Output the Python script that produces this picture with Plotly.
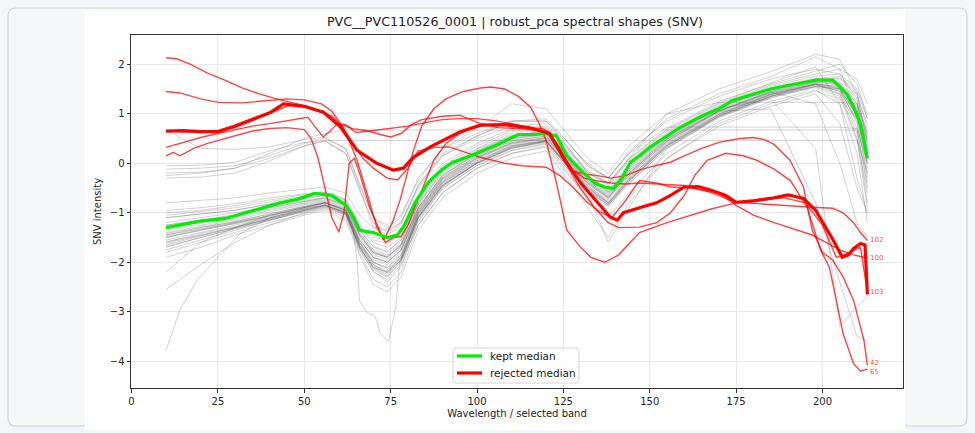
import plotly.graph_objects as go

# ---------------- data ----------------
BANDS = [10, 20, 30, 40, 50, 56, 62, 66, 70, 74, 78, 83, 90, 100, 110, 120, 126, 132, 138, 144, 155, 170, 185, 198, 205, 210, 213]

# kept spectra (gray)
KEPT_C01 = [-1.45,-1.32,-1.2,-1.05,-0.9,-0.8,-0.95,-1.6,-1.95,-2.05,-1.8,-1.0,-0.35,0.1,0.4,0.5,0.05,-0.4,-0.7,-0.25,0.45,1.05,1.42,1.62,1.5,0.8,-0.2]
KEPT_C02 = [-1.55,-1.4,-1.25,-1.1,-0.92,-0.82,-0.98,-1.65,-2.0,-2.15,-1.9,-1.05,-0.4,0.05,0.35,0.45,0.0,-0.45,-0.75,-0.3,0.4,1.0,1.4,1.6,1.55,1.1,0.3]
KEPT_C03 = [-1.65,-1.48,-1.3,-1.12,-0.95,-0.85,-1.0,-1.7,-2.1,-2.25,-1.95,-1.1,-0.45,0.0,0.3,0.42,-0.05,-0.5,-0.8,-0.35,0.35,0.98,1.38,1.58,1.45,0.7,-0.5]
KEPT_C04 = [-1.4,-1.28,-1.15,-0.98,-0.85,-0.76,-0.9,-1.5,-1.85,-1.95,-1.7,-0.95,-0.3,0.15,0.45,0.55,0.1,-0.35,-0.65,-0.2,0.5,1.08,1.45,1.65,1.62,1.2,0.5]
KEPT_C05 = [-1.7,-1.5,-1.32,-1.15,-0.98,-0.88,-1.05,-1.75,-2.2,-2.35,-2.05,-1.15,-0.5,-0.05,0.25,0.38,-0.1,-0.55,-0.85,-0.4,0.3,0.92,1.32,1.55,1.4,0.6,-0.8]
KEPT_C06 = [-1.35,-1.25,-1.12,-0.95,-0.82,-0.74,-0.88,-1.45,-1.8,-1.9,-1.65,-0.9,-0.25,0.2,0.5,0.6,0.15,-0.3,-0.6,-0.15,0.55,1.12,1.5,1.7,1.7,1.35,0.8]
KEPT_C07 = [-1.5,-1.35,-1.22,-1.08,-0.9,-0.8,-0.96,-1.62,-2.05,-2.2,-1.9,-1.02,-0.38,0.08,0.38,0.48,0.02,-0.45,-0.78,-0.3,0.42,1.02,1.4,1.6,1.45,0.9,0.0]
KEPT_C08 = [-1.2,-1.1,-1.0,-0.88,-0.75,-0.68,-0.82,-1.4,-1.75,-1.85,-1.6,-0.85,-0.2,0.25,0.55,0.65,0.2,-0.25,-0.55,-0.05,0.6,1.15,1.52,1.72,1.75,1.45,0.9]
KEPT_C09 = [-1.6,-1.42,-1.28,-1.1,-0.93,-0.84,-1.0,-1.68,-2.15,-2.3,-2.0,-1.12,-0.48,0.0,0.32,0.44,-0.02,-0.5,-0.82,-0.36,0.36,0.96,1.36,1.58,1.5,1.0,0.2]
KEPT_C10 = [-1.3,-1.2,-1.08,-0.93,-0.8,-0.72,-0.86,-1.45,-1.82,-1.9,-1.68,-0.92,-0.28,0.18,0.48,0.58,0.12,-0.32,-0.62,-0.18,0.52,1.1,1.48,1.68,1.65,1.25,0.6]
KEPT_C11 = [-1.75,-1.55,-1.35,-1.15,-0.96,-0.86,-1.02,-1.7,-2.1,-2.2,-1.95,-1.08,-0.42,0.02,0.33,0.45,-0.02,-0.48,-0.8,-0.32,0.38,0.98,1.38,1.6,1.55,1.05,0.4]
KEPT_C12 = [-1.58,-1.45,-1.3,-1.12,-0.94,-0.84,-0.99,-1.66,-2.08,-2.22,-1.96,-1.08,-0.44,0.02,0.34,0.46,-0.03,-0.48,-0.8,-0.33,0.38,0.99,1.39,1.6,1.52,0.95,-0.1]
KEPT_C13 = [-1.42,-1.3,-1.18,-1.02,-0.88,-0.79,-0.93,-1.55,-1.9,-2.0,-1.76,-0.98,-0.33,0.12,0.42,0.52,0.08,-0.38,-0.68,-0.22,0.48,1.06,1.44,1.64,1.58,1.15,0.45]
KEPT_C14 = [-1.25,-1.15,-1.04,-0.9,-0.78,-0.7,-0.84,-1.42,-1.78,-1.88,-1.64,-0.9,-0.24,0.22,0.52,0.62,0.17,-0.28,-0.58,-0.1,0.57,1.13,1.5,1.7,1.72,1.4,0.7]
KEPT_C15 = [-1.62,-1.46,-1.3,-1.13,-0.95,-0.85,-1.01,-1.7,-2.12,-2.28,-1.98,-1.1,-0.46,0.0,0.31,0.43,-0.04,-0.52,-0.84,-0.37,0.34,0.95,1.35,1.56,1.48,0.85,-0.3]
KEPT_C16 = [-1.48,-1.34,-1.21,-1.06,-0.9,-0.8,-0.95,-1.6,-2.0,-2.1,-1.85,-1.02,-0.37,0.1,0.4,0.5,0.05,-0.42,-0.72,-0.26,0.44,1.04,1.42,1.63,1.6,1.2,0.55]
KEPT_C17 = [-1.1,-1.03,-0.95,-0.83,-0.71,-0.65,-0.8,-1.36,-1.68,-1.78,-1.55,-0.82,-0.15,0.28,0.58,0.66,0.22,-0.25,-0.52,-0.02,0.62,1.17,1.55,1.76,1.8,1.5,1.0]
KEPT_C18 = [-1.68,-1.5,-1.33,-1.14,-0.97,-0.87,-1.03,-1.73,-2.18,-2.4,-2.1,-1.18,-0.52,-0.04,0.27,0.4,-0.08,-0.56,-0.88,-0.42,0.32,0.93,1.33,1.53,1.35,0.45,-0.9]
KEPT_W01 = [-0.8,-0.75,-0.7,-0.6,-0.52,-0.48,-0.6,-1.05,-1.3,-1.35,-1.2,-0.5,0.15,0.55,0.85,0.85,0.45,-0.05,-0.3,0.25,0.85,1.35,1.7,1.9,1.8,1.3,0.6]
KEPT_W02 = [-0.95,-0.9,-0.82,-0.7,-0.62,-0.58,-0.72,-1.25,-1.5,-1.55,-1.4,-0.7,0.0,0.4,0.7,0.75,0.35,-0.15,-0.4,0.1,0.7,1.25,1.6,1.85,2.0,1.6,0.9]
KEPT_W03 = [-1.05,-0.98,-0.9,-0.78,-0.66,-0.6,-0.76,-1.3,-1.6,-1.7,-1.5,-0.8,-0.1,0.3,0.62,0.7,0.3,-0.2,-0.45,0.05,0.65,1.2,1.58,1.8,1.9,1.7,1.2]
KEPT_W04 = [-1.8,-1.6,-1.4,-1.2,-1.02,-0.92,-1.1,-1.8,-2.35,-2.5,-2.2,-1.25,-0.6,-0.1,0.2,0.32,-0.2,-0.7,-1.1,-0.6,0.2,0.85,1.25,1.48,1.2,0.2,-1.2]
KEPT_W05 = [-2.2,-1.6,-1.3,-1.05,-0.88,-0.8,-0.95,-1.55,-1.9,-2.0,-1.75,-0.95,-0.3,0.15,0.45,0.55,0.1,-0.4,-0.7,-0.2,0.45,1.05,1.45,1.7,1.6,1.1,0.2]
KEPT_W06 = [-2.55,-2.05,-1.6,-1.25,-1.0,-0.9,-1.05,-1.65,-2.05,-2.2,-1.9,-1.1,-0.45,0.0,0.3,0.45,-0.05,-0.55,-0.85,-0.35,0.35,0.95,1.35,1.6,1.4,0.5,-0.6]
KEPT_W08 = [-1.9,-1.7,-1.45,-1.25,-1.05,-0.95,-1.15,-1.85,-2.45,-2.6,-2.3,-1.35,-0.7,-0.2,0.1,0.25,-0.3,-0.9,-1.5,-0.8,0.1,0.8,1.2,1.45,1.3,0.9,0.5]
KEPT_F01 = [-0.05,-0.04,0.02,0.25,0.42,0.46,0.46,0.46,0.46,0.46,0.46,0.46,0.46,0.46,0.46,0.46,0.46,0.46,0.46,0.46,0.46,0.46,0.46,0.46,0.46,0.46,-0.2]
KEPT_F02 = [-0.2,-0.18,-0.1,0.2,0.5,0.6,0.67,0.67,0.67,0.67,0.67,0.67,0.67,0.67,0.67,0.67,0.67,0.67,0.67,0.67,0.67,0.67,0.67,0.67,0.67,0.67,-0.4]
KEPT_F03 = [-0.25,-0.2,-0.1,0.1,0.35,0.45,0.2,-0.5,-1.3,-1.45,-1.25,-0.45,0.15,0.5,0.75,0.8,0.35,-0.2,-0.4,0.1,1.0,1.23,1.23,1.23,1.23,1.2,0.3]
KEPT_F04 = [0.67,0.3,0.28,0.33,0.48,0.52,0.3,-0.4,-1.1,-1.3,-1.1,-0.3,0.3,0.6,0.85,0.85,0.4,0.0,-0.3,0.2,0.73,0.73,0.73,0.73,0.73,0.7,0.0]
KEPT_U01 = [-0.3,-0.28,-0.2,0.05,0.35,0.45,0.2,-0.55,-1.2,-1.4,-1.2,-0.45,0.2,0.55,0.85,0.9,0.45,-0.05,-0.3,0.2,0.9,1.4,1.75,2.15,1.9,1.0,0.0]
KEPT_U02 = [-0.12,-0.1,-0.05,0.15,0.4,0.5,0.3,-0.45,-1.1,-1.25,-1.05,-0.35,0.3,0.7,1.2,1.1,0.6,0.1,-0.2,0.35,1.0,1.5,1.85,2.2,2.1,1.4,0.4]
KEPT_D01 = [-1.1,-1.02,-0.95,-0.82,-0.7,-0.64,-0.8,-1.35,-1.7,-1.8,-1.55,-0.82,-0.18,0.25,0.55,0.62,0.18,-0.28,-0.58,-0.08,0.55,1.1,1.3,0.3,-3.3,-2.9,-2.7]
KEPT_D02 = [-1.25,-1.15,-1.05,-0.9,-0.78,-0.7,-0.85,-1.45,-1.8,-1.9,-1.65,-0.9,-0.25,0.2,0.5,0.58,0.12,-0.35,-0.65,-0.15,0.5,1.05,1.1,-0.8,-2.4,-3.5,-3.6]
KEPT_E01 = [-1.45,-1.3,-1.18,-1.02,-0.87,-0.78,-0.92,-1.55,-1.9,-2.0,-1.75,-0.98,-0.32,0.12,0.42,0.52,0.08,-0.38,-0.68,-0.22,0.48,1.06,1.44,1.2,0.0,-1.2,-1.5]
KEPT_E02 = [-1.0,-0.95,-0.86,-0.74,-0.64,-0.6,-0.74,-1.28,-1.55,-1.62,-1.45,-0.75,-0.05,0.35,0.66,0.72,0.32,-0.18,-0.42,0.08,0.68,1.22,1.62,1.95,1.2,-0.3,-1.0]
KEPT_E03 = [-1.5,-1.36,-1.22,-1.06,-0.9,-0.8,-0.95,-1.6,-2.0,-2.12,-1.85,-1.05,-0.4,0.05,0.36,0.46,0.0,-0.6,-1.6,-0.9,0.3,0.95,1.35,1.55,1.5,0.95,0.1]

KEPT_W07_X = [10,14,19,26,31.5,40,50,56,62,64,65.3,66,68,70.6,72,74.4,76.5,77.7,80,83,90,100,110,120,126,132,138,144,155,170,185,198,205,210,213]
KEPT_W07_Y = [-3.78,-2.97,-2.36,-1.82,-1.42,-1.1,-0.92,-0.85,-1.0,-1.3,-1.96,-2.77,-3.0,-3.1,-3.43,-3.6,-2.9,-1.96,-1.7,-1.25,-0.6,-0.1,0.2,0.35,-0.15,-0.75,-1.2,-0.7,0.1,0.75,1.15,1.4,0.8,-0.5,-1.0]

# rejected spectra (red), labelled by index at their right end
REJ_102_X = [10,13,17,22,27,32,37,43,48,52,56,60,64,68,72,75,78,81,84,90,95,101,106,112,118,121,124,127,131,135,139,143,147,152,160,168,175,182,189,195,200,203,206,209,211,213]
REJ_102_Y = [2.13,2.11,2.0,1.82,1.68,1.52,1.4,1.28,1.2,1.12,1.0,0.8,0.7,0.66,0.58,0.53,0.6,0.78,0.88,0.95,0.97,0.8,0.72,0.7,0.66,0.6,0.3,-0.1,-0.3,-0.36,-0.4,-0.42,-0.4,-0.42,-0.45,-0.6,-0.79,-0.82,-0.86,-0.88,-0.9,-0.91,-1.0,-1.2,-1.4,-1.56]
REJ_65_X = [10,14,20,25,32,40,45,50,55,58,61,63,65.3,69,71,73.5,76,78,80,81.7,85.5,87.5,91,95,100,110,119,121,124,129,134,138,141,147,152,156,160,163,166.6,172,177,181,186,190.7,195.5,198.5,199.5,202,206,209,211,213]
REJ_65_Y = [1.45,1.42,1.3,1.23,1.22,1.26,1.3,1.28,1.2,1.05,0.75,0.45,0.06,-0.8,-1.3,-1.6,-1.5,-1.48,-1.25,-0.95,-0.28,0.06,0.4,0.6,0.75,0.8,0.65,0.55,0.2,-0.4,-0.9,-1.2,-1.3,-1.29,-1.2,-1.0,-0.65,-0.25,0.06,0.2,0.15,0.06,-0.12,-0.35,-0.88,-1.55,-1.76,-2.1,-3.45,-4.05,-4.2,-4.16]
REJ_103_X = [10,12,14,18,22,26,30,35,40,45,50,52,54,56,58,60,61.5,63,64.5,66,69,73,75.5,77.7,79.8,81.6,84,87.5,91,96,101,104,108,112,115.5,118,120,123,126,130,133,137,141,147,155,162,168,175,182,189,195,200,204,208,211,213]
REJ_103_Y = [0.15,0.22,0.15,0.3,0.4,0.48,0.55,0.65,0.7,0.72,0.68,0.5,0.1,-0.5,-1.1,-1.39,-1.0,0.0,0.1,-0.2,-0.9,-1.55,-1.2,-0.75,-0.2,0.26,0.75,1.1,1.3,1.45,1.52,1.54,1.5,1.35,1.13,0.8,0.46,-0.4,-1.35,-1.7,-1.9,-2.0,-1.85,-1.4,-1.2,-1.05,-0.92,-0.8,-0.72,-0.7,-0.8,-1.25,-1.9,-1.8,-1.7,-2.61]
REJ_100_X = [10,15,20,25,30,35,40,45,48,52,55,58,61,64,67,70,74,77,80,83,88,92,97,101,108,113,120,124,128,132,136,139,143,147,152,156,162,170,175,180,186,192.7,197,201,205,209,213]
REJ_100_Y = [0.65,0.64,0.62,0.64,0.72,0.86,1.0,1.15,1.18,1.1,1.03,0.95,0.75,0.4,0.1,-0.1,-0.3,-0.34,-0.1,0.25,0.32,0.33,0.22,0.12,0.0,-0.05,-0.08,-0.25,-0.5,-0.8,-1.0,-1.1,-0.75,-0.35,-0.4,-0.48,-0.5,-0.6,-0.85,-1.05,-1.2,-1.35,-1.45,-1.6,-1.75,-1.85,-1.92]
REJ_42_X = [10,15,20,25,30,35,40,45,48,51,53,55.5,57.5,59.6,62,65,70,75,80,85,90,95,100,105,110,115,119,121,124,127,131,135,138.6,143,147,151,156,160,165,170,176,180,183,186,190.6,194.5,197,200,203,206,209,212,213]
REJ_42_Y = [0.32,0.42,0.52,0.6,0.68,0.75,0.8,0.86,0.9,0.93,0.75,0.53,0.65,0.8,0.78,0.62,0.66,0.7,0.75,0.82,0.88,0.9,0.9,0.86,0.8,0.72,0.7,0.62,0.3,-0.14,-0.22,-0.25,-0.3,-0.25,-0.14,-0.06,0.02,0.15,0.3,0.42,0.5,0.52,0.48,0.38,0.06,-0.48,-1.35,-1.8,-1.96,-2.3,-2.77,-3.58,-4.08]

# medians
KEPT_MED_X = [10,15,20,27,33,38,43,48,53,58,62,64,66,68,70,72,74,77,79,82,86,90,93,97,100,106,112,116,120,123,126,130,134,137,139.5,142,144.4,147,150,155,159,165,170,174,180,185,190,195,198.5,203,205,207,209,211,213]
KEPT_MED_Y = [-1.3,-1.24,-1.17,-1.12,-1.0,-0.9,-0.8,-0.73,-0.61,-0.65,-0.85,-1.05,-1.35,-1.38,-1.4,-1.45,-1.5,-1.45,-1.25,-0.8,-0.38,-0.12,0.02,0.12,0.2,0.38,0.58,0.58,0.6,0.55,0.15,-0.14,-0.4,-0.48,-0.51,-0.3,0.02,0.15,0.32,0.55,0.73,0.95,1.1,1.27,1.4,1.5,1.57,1.63,1.68,1.68,1.55,1.4,1.13,0.8,0.1]
REJ_MED_X = [10,15,20,25,30,35,40,44,50,55.6,60.5,65.3,71,75.8,78.7,81.6,86.5,95,101,108,115,121,125,130,135,138.6,140.6,142.4,148,152,156,160,164,168,172,175,180,186,190,194.5,198,201,203.5,205.7,207.5,209,211,212.3,213]
REJ_MED_Y = [0.65,0.66,0.64,0.64,0.75,0.88,1.02,1.2,1.15,1.03,0.73,0.26,0.0,-0.14,-0.1,0.12,0.33,0.63,0.77,0.78,0.72,0.6,0.12,-0.4,-0.8,-1.09,-1.15,-1.0,-0.88,-0.8,-0.65,-0.48,-0.47,-0.55,-0.65,-0.79,-0.76,-0.7,-0.64,-0.71,-0.95,-1.29,-1.6,-1.9,-1.85,-1.72,-1.62,-1.65,-2.65]

KEPT_GRID = [KEPT_C01, KEPT_C02, KEPT_C03, KEPT_C04, KEPT_C05, KEPT_C06, KEPT_C07, KEPT_C08, KEPT_C09, KEPT_C10,
             KEPT_C11, KEPT_C12, KEPT_C13, KEPT_C14, KEPT_C15, KEPT_C16, KEPT_C17, KEPT_C18,
             KEPT_W01, KEPT_W02, KEPT_W03, KEPT_W04, KEPT_W05, KEPT_W06, KEPT_W08,
             KEPT_F01, KEPT_F02, KEPT_F03, KEPT_F04, KEPT_U01, KEPT_U02,
             KEPT_D01, KEPT_D02, KEPT_E01, KEPT_E02, KEPT_E03]
REJECTED = [("102", REJ_102_X, REJ_102_Y), ("100", REJ_100_X, REJ_100_Y), ("103", REJ_103_X, REJ_103_Y),
            ("42", REJ_42_X, REJ_42_Y), ("65", REJ_65_X, REJ_65_Y)]
LABEL_NUDGE = {"42": 2.5, "65": -2.5}
LEGEND_LABELS = ["kept median", "rejected median"]

TITLE = "PVC__PVC110526_0001 | robust_pca spectral shapes (SNV)"
X_TICKS = [0, 25, 50, 75, 100, 125, 150, 175, 200]
Y_TICKS = [-4, -3, -2, -1, 0, 1, 2]

# ---------------- figure ----------------
W, H = 975, 433
ML, MR, MT, MB = 131, 72, 35, 45
PW, PH = W - ML - MR, H - MT - MB


def px(xpix):
    return (xpix - ML) / PW


def py(ypix):
    return (H - MB - ypix) / PH


def rounded(xa, xb, ya, yb, r):
    """Rounded-rectangle path in paper units from pixel corners."""
    x0, x1, y0, y1 = px(xa), px(xb), py(ya), py(yb)
    rx, ry = r / PW, r / PH
    return (f"M {x0+rx},{y0} L {x1-rx},{y0} Q {x1},{y0} {x1},{y0-ry} L {x1},{y1+ry} Q {x1},{y1} {x1-rx},{y1} "
            f"L {x0+rx},{y1} Q {x0},{y1} {x0},{y1+ry} L {x0},{y0-ry} Q {x0},{y0} {x0+rx},{y0} Z")


FONT = "DejaVu Sans"
fig = go.Figure()

gray = "rgba(80,80,80,0.26)"
for ys in KEPT_GRID:
    fig.add_trace(go.Scatter(x=BANDS, y=ys, mode="lines", line=dict(color=gray, width=1),
                             showlegend=False, hoverinfo="skip"))
fig.add_trace(go.Scatter(x=KEPT_W07_X, y=KEPT_W07_Y, mode="lines", line=dict(color=gray, width=1),
                         showlegend=False, hoverinfo="skip"))

red_thin = "rgba(255,0,0,0.74)"
for name, xs, ys in REJECTED:
    fig.add_trace(go.Scatter(x=xs, y=ys, mode="lines", line=dict(color=red_thin, width=1.4),
                             showlegend=False, hoverinfo="skip"))

MED_COLORS = ["#00ee00", "#ff0000"]
fig.add_trace(go.Scatter(x=KEPT_MED_X, y=KEPT_MED_Y, mode="lines", name=LEGEND_LABELS[0],
                         line=dict(color=MED_COLORS[0], width=3.2), showlegend=False))
fig.add_trace(go.Scatter(x=REJ_MED_X, y=REJ_MED_Y, mode="lines", name=LEGEND_LABELS[1],
                         line=dict(color=MED_COLORS[1], width=3.2), showlegend=False))

for name, xs, ys in REJECTED:
    fig.add_annotation(x=xs[-1], y=ys[-1], text=name, showarrow=False, xanchor="left", yanchor="middle",
                       xshift=1, yshift=LABEL_NUDGE.get(name, 0),
                       font=dict(family=FONT, size=7, color="rgba(255,0,0,0.75)"))

# page card and white figure area
fig.add_shape(type="path", path=rounded(8, 967, 8, 426, 8), xref="paper", yref="paper", layer="below",
              fillcolor="#f6f7f9", line=dict(color="#cdd6e1", width=1.2))
fig.add_shape(type="rect", xref="paper", yref="paper", x0=px(85), x1=px(905), y0=py(11), y1=py(430),
              layer="below", fillcolor="white", line=dict(width=0))

# legend box (matplotlib style, lower center)
fig.add_shape(type="path", path=rounded(453, 579, 348, 383, 3), xref="paper", yref="paper", layer="above",
              fillcolor="rgba(255,255,255,0.85)", line=dict(color="#d5d5d5", width=1))
for i, (label, col) in enumerate(zip(LEGEND_LABELS, MED_COLORS)):
    yy = py(356 + 17 * i)
    fig.add_shape(type="line", xref="paper", yref="paper", x0=px(457), x1=px(482), y0=yy, y1=yy,
                  layer="above", line=dict(color=col, width=3.2))
    fig.add_annotation(x=px(488), y=yy, xref="paper", yref="paper", text=label, showarrow=False,
                       xanchor="left", yanchor="middle", font=dict(family=FONT, size=10.5, color="#222"))

axis_common = dict(showline=True, mirror=True, linecolor="#333", linewidth=1, ticks="outside", ticklen=3.5,
                   tickcolor="#333", tickwidth=0.8, showgrid=True, gridcolor="#e8e8e8", gridwidth=0.8,
                   zeroline=False, tickfont=dict(family=FONT, size=10, color="#222"))

fig.update_xaxes(range=[-0.15, 223.3], tickvals=X_TICKS, ticktext=[str(v) for v in X_TICKS],
                 title=dict(text="Wavelength / selected band", font=dict(family=FONT, size=10, color="#222"), standoff=4),
                 **axis_common)
fig.update_yaxes(range=[-4.54, 2.59], tickvals=Y_TICKS, ticktext=[str(v).replace("-", "\u2212") for v in Y_TICKS],
                 title=dict(text="SNV intensity", font=dict(family=FONT, size=10, color="#222"), standoff=6),
                 **axis_common)

fig.update_layout(
    width=W, height=H,
    margin=dict(l=ML, r=MR, t=MT, b=MB),
    paper_bgcolor="#f3f5f8", plot_bgcolor="white",
    title=dict(text=TITLE, x=px(515), xanchor="center", xref="paper", y=1 - 22 / H, yref="container",
               yanchor="middle", font=dict(family=FONT, size=12.7, color="#222")),
    showlegend=False,
)

fig.write_html("out.html", config={"displayModeBar": False},
               post_script="document.body.style.margin='0';document.body.style.overflow='hidden';")
